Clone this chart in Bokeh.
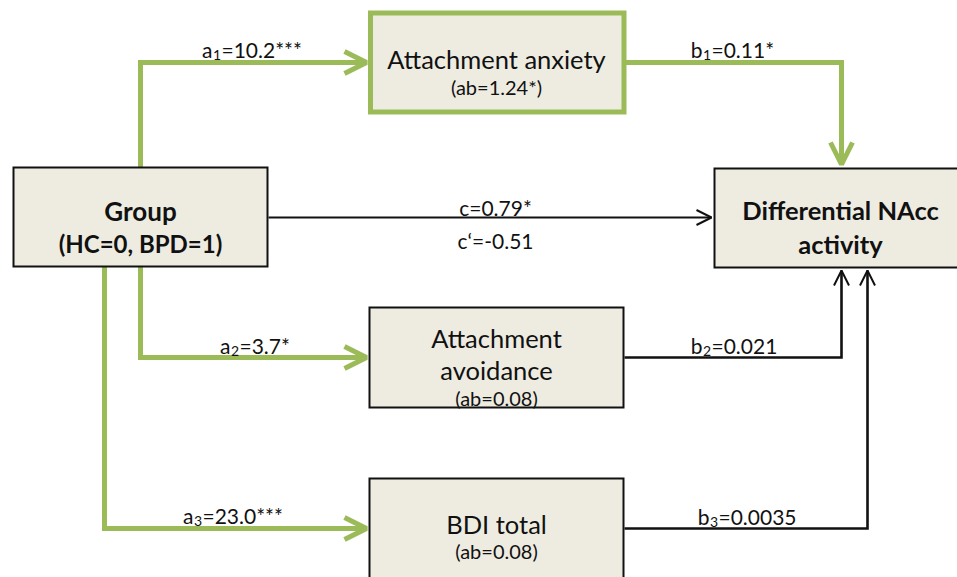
from bokeh.plotting import figure
from bokeh.models import Range1d, Arrow, OpenHead, ColumnDataSource
from bokeh.core.properties import value
from bokeh.embed import file_html
from bokeh.resources import INLINE

# ---- data (path coefficients) ----
mediators = ["Attachment anxiety", "Attachment avoidance", "BDI total"]
a_values = ["=10.2***", "=3.7*", "=23.0***"]
b_values = ["=0.11*", "=0.021", "=0.0035"]
path_index = ["1", "2", "3"]
ab_labels = ["(ab=1.24*)", "(ab=0.08)", "(ab=0.08)"]
c_label = "c=0.79*"
c_prime_label = "c\u2018=-0.51"
predictor_lines = ["Group", "(HC=0, BPD=1)"]
outcome_lines = ["Differential NAcc", "activity"]

GREEN = "#9bbb59"
FILL = "#eeece1"
INK = "#111111"
FONT = value("Lato")

W, H = 957, 577
p = figure(width=W, height=H, output_backend="svg", toolbar_location=None,
           x_range=Range1d(0, W), y_range=Range1d(H, 0),
           min_border=0, outline_line_color=None)
p.axis.visible = False
p.grid.visible = False
p.background_fill_color = "white"
p.border_fill_color = "white"

# ---- connectors (drawn first, under boxes) ----
green_xs = [[140, 140, 366], [623, 841, 841], [140, 140, 366], [104, 104, 366]]
green_ys = [[170, 62, 62], [62, 62, 164], [264, 357, 357], [264, 528, 528]]
p.multi_line(green_xs, green_ys, line_color=GREEN, line_width=5, line_join="miter")
black_xs = [[268, 711], [624, 841, 841], [624, 867, 867]]
black_ys = [[217, 217], [357, 357, 270], [528, 528, 270]]
p.multi_line(black_xs, black_ys, line_color=INK, line_width=[1.8, 2.6, 2.6], line_join="miter")

for xs, ys in zip(green_xs, green_ys):
    p.add_layout(Arrow(x_start=xs[-2], y_start=ys[-2], x_end=xs[-1], y_end=ys[-1],
                       line_alpha=0,
                       end=OpenHead(size=22, line_color=GREEN, line_width=5)))
for xs, ys in zip(black_xs, black_ys):
    p.add_layout(Arrow(x_start=xs[-2], y_start=ys[-2], x_end=xs[-1], y_end=ys[-1],
                       line_alpha=0,
                       end=OpenHead(size=15, line_color=INK, line_width=2)))

# ---- boxes ----
box_left = [13, 370, 714, 369, 369]
box_right = [267, 623.5, 966, 623, 623]
box_top = [167, 12.5, 168, 307, 478]
box_bottom = [266, 111.5, 267, 407, 600]
box_line = [INK, GREEN, INK, INK, INK]
box_lw = [2, 5, 2, 2, 2]
p.quad(left=box_left, right=box_right, top=box_top, bottom=box_bottom,
       fill_color=FILL, line_color=box_line, line_width=box_lw, line_join="miter")

# ---- box texts ----
bold_src = ColumnDataSource(dict(
    x=[140, 140, 840, 840],
    y=[210, 243, 209, 243],
    t=predictor_lines + outcome_lines,
    s=["26px", "24px", "25.5px", "25.5px"]))
p.text(x="x", y="y", text="t", source=bold_src, text_font=FONT, text_font_style="bold",
       text_font_size="s", text_color=INK, text_align="center", text_baseline="alphabetic")

title_src = ColumnDataSource(dict(
    x=[496, 496, 496, 496],
    y=[58, 337, 369, 523],
    t=[mediators[0], "Attachment", "avoidance", mediators[2]]))
p.text(x="x", y="y", text="t", source=title_src, text_font=FONT,
       text_font_size="25.5px", text_color=INK, text_align="center", text_baseline="alphabetic")

ab_src = ColumnDataSource(dict(x=[496, 496, 496], y=[86, 397, 550], t=ab_labels))
p.text(x="x", y="y", text="t", source=ab_src, text_font=FONT,
       text_font_size="20px", text_color=INK, text_align="center", text_baseline="alphabetic")

# ---- path labels with subscripts ----
sub_x = [212, 230, 193, 702, 702, 709]
base_y = [49, 345, 515, 49, 345, 516]
base_src = ColumnDataSource(dict(x=sub_x, y=base_y, t=["a"] * 3 + ["b"] * 3))
p.text(x="x", y="y", text="t", source=base_src, text_font=FONT,
       text_font_size="21px", text_color=INK, text_align="right", text_baseline="alphabetic")
sub_src = ColumnDataSource(dict(x=[x + 0.5 for x in sub_x], y=[y + 5 for y in base_y],
                                t=path_index + path_index))
p.text(x="x", y="y", text="t", source=sub_src, text_font=FONT,
       text_font_size="14px", text_color=INK, text_align="left", text_baseline="alphabetic")
rest_src = ColumnDataSource(dict(x=[x + 9 for x in sub_x], y=base_y, t=a_values + b_values))
p.text(x="x", y="y", text="t", source=rest_src, text_font=FONT,
       text_font_size="21px", text_color=INK, text_align="left", text_baseline="alphabetic")

c_src = ColumnDataSource(dict(x=[495, 495], y=[207, 240], t=[c_label, c_prime_label]))
p.text(x="x", y="y", text="t", source=c_src, text_font=FONT,
       text_font_size="21px", text_color=INK, text_align="center", text_baseline="alphabetic")

open("out.html", "w").write(file_html(p, INLINE))
